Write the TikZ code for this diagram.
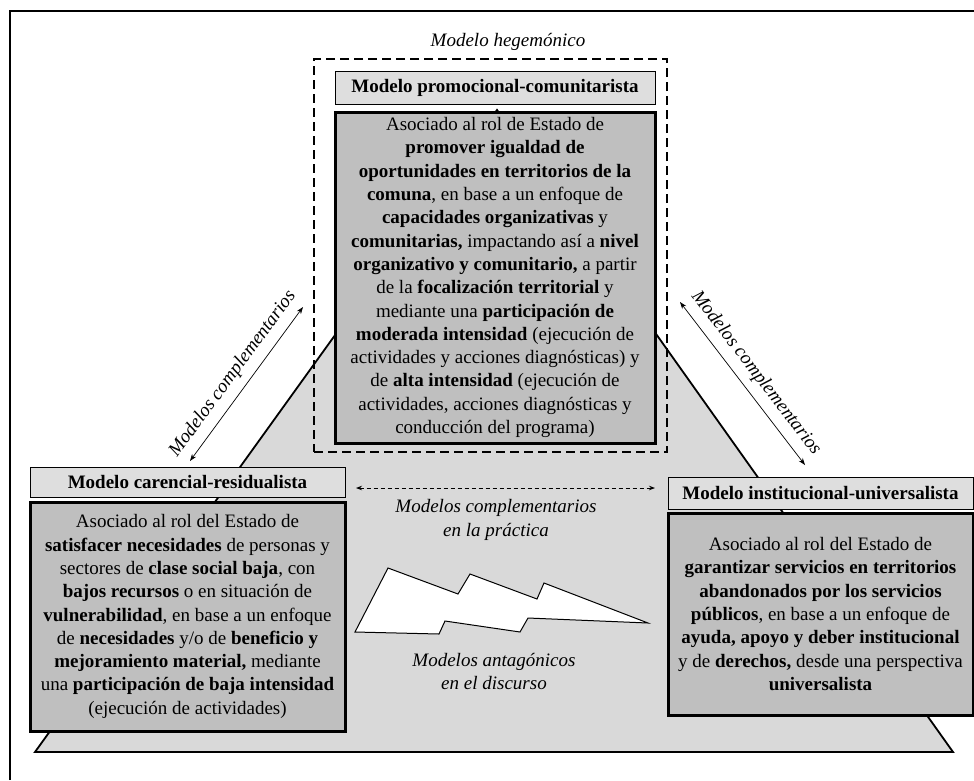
\documentclass[tikz,border=0pt]{standalone}
\usepackage{fontspec}
\setmainfont{Liberation Serif}
\usetikzlibrary{arrows.meta,calc}
\definecolor{titlegray}{HTML}{DEDEDE}
\definecolor{boxgray}{HTML}{BFBFBF}
\definecolor{trigray}{HTML}{D9D9D9}
\begin{document}
\begin{tikzpicture}[x=1pt,y=-1pt,
  titlebox/.style={draw=black, line width=1pt, fill=titlegray, inner sep=0pt,
    font=\fontsize{19}{23.3}\selectfont\bfseries},
  mainbox/.style={draw=black, line width=3pt, fill=boxgray, inner sep=0pt, align=center,
    font=\fontsize{19}{23.3}\selectfont},
  lbl/.style={font=\fontsize{19}{23.3}\selectfont\itshape, align=center, inner sep=0pt},
  dblarrow/.style={{Stealth[length=7pt,width=5pt]}-{Stealth[length=7pt,width=5pt]}, line width=0.7pt},
  dashline/.style={dash pattern=on 4pt off 3pt, line width=0.9pt},
]
\useasboundingbox (0,0) rectangle (974,780);
% outer frame
\draw[line width=1.8pt] (10,780) -- (10,11) -- (974,11);
% background triangle
\draw[fill=trigray, line width=1.8pt, line join=miter] (497,110) -- (35,752) -- (953,752) -- cycle;
% hegemonic dashed frame
\node[draw=black, line width=1.8pt, dash pattern=on 9pt off 5pt, minimum width=353pt, minimum height=393pt, inner sep=0pt] (hegem) at (490.5,255.5) {};
\node[lbl] (hegtxt) at (508,42) {Modelo hegemónico};
% top model
\node[titlebox, minimum width=320pt, minimum height=33pt] (ptitle) at (495,87.5) {Modelo promocional-comunitarista};
\node[mainbox, minimum width=320pt, minimum height=331pt] (pbox) at (495,277.5) {Asociado al rol de Estado de\\
\textbf{promover igualdad de}\\
\textbf{oportunidades en territorios de la}\\
\textbf{comuna}, en base a un enfoque de\\
\textbf{capacidades organizativas} y\\
\textbf{comunitarias,} impactando así a \textbf{nivel}\\
\textbf{organizativo y comunitario,} a partir\\
de la \textbf{focalización territorial} y\\
mediante una \textbf{participación de}\\
\textbf{moderada intensidad} (ejecución de\\
actividades y acciones diagnósticas) y\\
de \textbf{alta intensidad} (ejecución de\\
actividades, acciones diagnósticas y\\
conducción del programa)};
% left model
\node[titlebox, minimum width=315pt, minimum height=30pt] (ltitle) at (187.5,482) {Modelo carencial-residualista};
\node[mainbox, minimum width=315pt, minimum height=229pt] (lbox) at (187.5,616.5) {Asociado al rol del Estado de\\
\textbf{satisfacer necesidades} de personas y\\
sectores de \textbf{clase social baja}, con\\
\textbf{bajos recursos} o en situación de\\
\textbf{vulnerabilidad}, en base a un enfoque\\
de \textbf{necesidades} y/o de \textbf{beneficio y}\\
\textbf{mejoramiento material,} mediante\\
una \textbf{participación de baja intensidad}\\
(ejecución de actividades)};
% right model
\node[titlebox, minimum width=305pt, minimum height=32pt] (rtitle) at (820.5,493) {Modelo institucional-universalista};
\node[mainbox, minimum width=305pt, minimum height=202pt] (rbox) at (820.5,614) {Asociado al rol del Estado de\\
\textbf{garantizar servicios en territorios}\\
\textbf{abandonados por los servicios}\\
\textbf{públicos}, en base a un enfoque de\\
\textbf{ayuda, apoyo y deber institucional}\\
y de \textbf{derechos,} desde una perspectiva\\
\textbf{universalista}};
% complementary arrows
\coordinate (la1) at (190,461);
\coordinate (la2) at (303,307);
\draw[dblarrow] (la1) -- node[lbl, sloped, above=8pt] (lcomp) {Modelos complementarios} (la2);
\coordinate (ra1) at (680,302);
\coordinate (ra2) at (805,465);
\draw[dblarrow] (ra1) -- node[lbl, sloped, above=8pt] (rcomp) {Modelos complementarios} (ra2);
% practice arrow
\coordinate (ca) at (356,488);
\coordinate (cb) at (655,488);
\draw[dashline, {Stealth[length=6pt,width=4.5pt]}-{Stealth[length=6pt,width=4.5pt]}] (ca) -- (cb);
\draw[dashline] ($(hegem.south)+(2.5,0)$) -- ($(hegem.south)+(2.5,0)$ |- ca);
\node[lbl] (practica) at (496,520) {Modelos complementarios\\en la práctica};
% lightning
\draw[fill=white, line width=1pt, line join=miter] (355,632) -- (388,568) -- (458,594) -- (470,574) -- (537,599) -- (544,583) -- (648,623) -- (528,618) -- (520,632) -- (445,621) -- (439,634) -- cycle;
\node[lbl] (discurso) at (494,671.5) {Modelos antagónicos\\en el discurso};
\end{tikzpicture}
\end{document}
